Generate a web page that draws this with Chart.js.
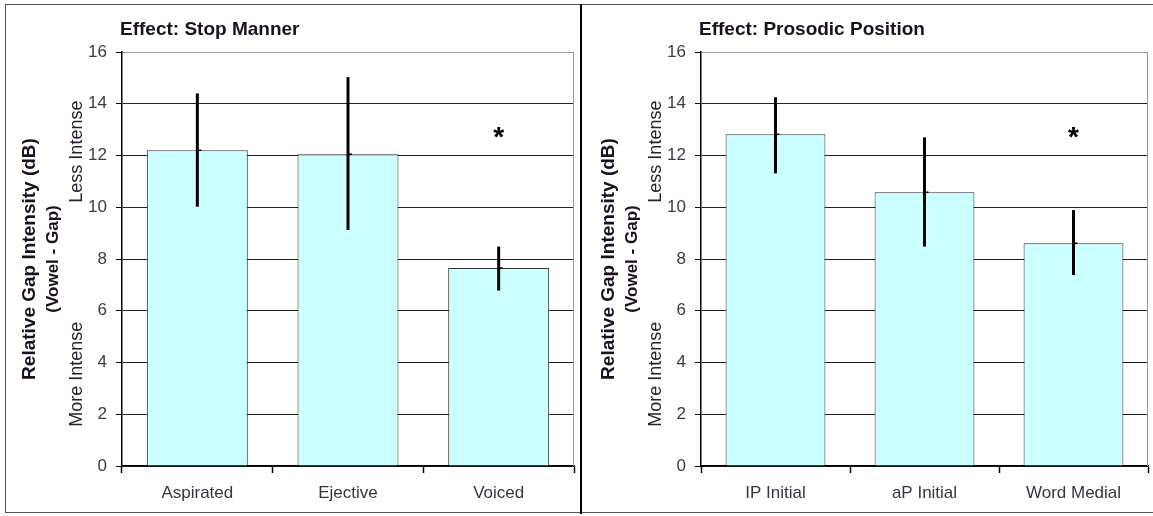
<!DOCTYPE html>
<html>
<head>
<meta charset="utf-8">
<title>Relative Gap Intensity</title>
<script src="https://cdn.jsdelivr.net/npm/chart.js@4.4.1/dist/chart.umd.min.js"></script>
<style>
    body { margin: 0; background: #fff; }
    #frame {
        position: absolute; left: 5px; top: 4px; width: 1150px; height: 509px;
        border: 1px solid #555; border-right: none; box-sizing: border-box;
    }
    #divider { position: absolute; left: 580px; top: 4px; width: 2px; height: 510px; background: #000; }
    canvas { position: absolute; top: 6px; }
    #stopChart { left: 7px; }
    #prosChart { left: 583px; }
</style>
</head>
<body>
<div id="frame"></div>
<div id="divider"></div>
<canvas id="stopChart" width="572" height="507"></canvas>
<canvas id="prosChart" width="570" height="507"></canvas>
<script>
// Stop manner panel
const stopLabels = ['Aspirated', 'Ejective', 'Voiced'];
const stopMeans = [12.2, 12.05, 7.65];
const stopLow = [10.02, 9.12, 6.78];
const stopHigh = [14.4, 15.03, 8.48];

// Prosodic position panel
const prosLabels = ['IP Initial', 'aP Initial', 'Word Medial'];
const prosMeans = [12.82, 10.58, 8.61];
const prosLow = [11.31, 8.48, 7.38];
const prosHigh = [14.25, 12.7, 9.89];

// y axis ticks
const yMin = 0;
const yMax = 16;
const yStep = 2;

// significance marker (category index, value)
const starIndex = 2;
const starValue = 13;

const FONT = "'Liberation Sans', Arial, sans-serif";

// error bars, title, axis captions, asterisk
const extrasPlugin = {
    id: 'extras',
    afterDatasetsDraw(chart, args, opts) {
        const ctx = chart.ctx;
        const meta = chart.getDatasetMeta(0);
        const y = chart.scales.y;
        const area = chart.chartArea;

        // right border of the plot
        ctx.save();
        ctx.strokeStyle = '#999';
        ctx.lineWidth = 1;
        ctx.beginPath();
        ctx.moveTo(area.right - 0.5, area.top);
        ctx.lineTo(area.right - 0.5, area.bottom);
        ctx.stroke();

        // error bars
        ctx.strokeStyle = '#000';
        meta.data.forEach((bar, i) => {
            ctx.lineWidth = 3;
            ctx.beginPath();
            ctx.moveTo(bar.x, y.getPixelForValue(opts.low[i]));
            ctx.lineTo(bar.x, y.getPixelForValue(opts.high[i]));
            ctx.stroke();
            const ym = y.getPixelForValue(opts.means[i]);
            ctx.lineWidth = 1.5;
            ctx.beginPath();
            ctx.moveTo(bar.x - 1, ym);
            ctx.lineTo(bar.x + 4, ym);
            ctx.stroke();
        });

        // asterisk
        const sx = meta.data[starIndex].x;
        const sy = y.getPixelForValue(starValue);
        ctx.fillStyle = '#000';
        ctx.font = 'bold 28px ' + FONT;
        ctx.textAlign = 'center';
        ctx.textBaseline = 'alphabetic';
        ctx.fillText('*', sx, sy + 0.575 * 28);

        // title
        ctx.fillStyle = '#1a1020';
        ctx.font = 'bold 19px ' + FONT;
        ctx.textAlign = 'left';
        ctx.textBaseline = 'middle';
        ctx.fillText(opts.title, area.left - 2, 24);

        // rotated y captions
        const midY = (area.top + area.bottom) / 2;
        const rot = (text, x, cy, font, color) => {
            ctx.save();
            ctx.translate(x, cy);
            ctx.rotate(-Math.PI / 2);
            ctx.font = font;
            ctx.fillStyle = color;
            ctx.textAlign = 'center';
            ctx.textBaseline = 'middle';
            ctx.fillText(text, 0, 0);
            ctx.restore();
        };
        rot('Relative Gap Intensity (dB)', area.left - 92, midY, 'bold 19px ' + FONT, '#1a1020');
        rot('(Vowel - Gap)', area.left - 69, midY, 'bold 17px ' + FONT, '#1a1020');
        rot('Less Intense', area.left - 45, y.getPixelForValue(12.15), '18px ' + FONT, '#2a2030');
        rot('More Intense', area.left - 45, y.getPixelForValue(3.55), '18px ' + FONT, '#2a2030');
        ctx.restore();
    }
};

function makeChart(id, labels, means, low, high, title, yWidth, rightPad) {
    const ctx = document.getElementById(id).getContext('2d');
    return new Chart(ctx, {
        type: 'bar',
        data: {
            labels: labels,
            datasets: [{
                data: means,
                backgroundColor: '#ccffff',
                borderColor: '#333',
                borderWidth: 1,
                barPercentage: 0.67,
                categoryPercentage: 1
            }]
        },
        options: {
            responsive: false,
            animation: false,
            layout: {
                padding: { top: 46, right: rightPad, left: 0, bottom: 0 }
            },
            scales: {
                y: {
                    min: yMin,
                    max: yMax,
                    afterFit: function (scale) { scale.width = yWidth; },
                    ticks: {
                        stepSize: yStep,
                        color: '#3f3848',
                        padding: 9,
                        font: { family: FONT, size: 17 }
                    },
                    grid: {
                        color: (c) => c.tick && c.tick.value === yMax ? '#999' : '#222',
                        lineWidth: 1,
                        tickLength: 6,
                        tickColor: '#000'
                    },
                    border: { color: '#000', width: 1.5 }
                },
                x: {
                    afterFit: function (scale) { scale.height = 47; },
                    ticks: {
                        color: '#3a3340',
                        padding: 10,
                        font: { family: FONT, size: 17 }
                    },
                    grid: {
                        drawOnChartArea: false,
                        tickLength: 7,
                        tickColor: '#000',
                        tickWidth: 1.5
                    },
                    border: { color: '#000', width: 1.5 }
                }
            },
            plugins: {
                legend: { display: false },
                tooltip: { enabled: false },
                extras: { title: title, means: means, low: low, high: high }
            }
        },
        plugins: [extrasPlugin]
    });
}

document.addEventListener('DOMContentLoaded', function () {
    makeChart('stopChart', stopLabels, stopMeans, stopLow, stopHigh, 'Effect: Stop Manner', 115, 5);
    makeChart('prosChart', prosLabels, prosMeans, prosLow, prosHigh, 'Effect: Prosodic Position', 118, 5);
});
</script>
</body>
</html>
